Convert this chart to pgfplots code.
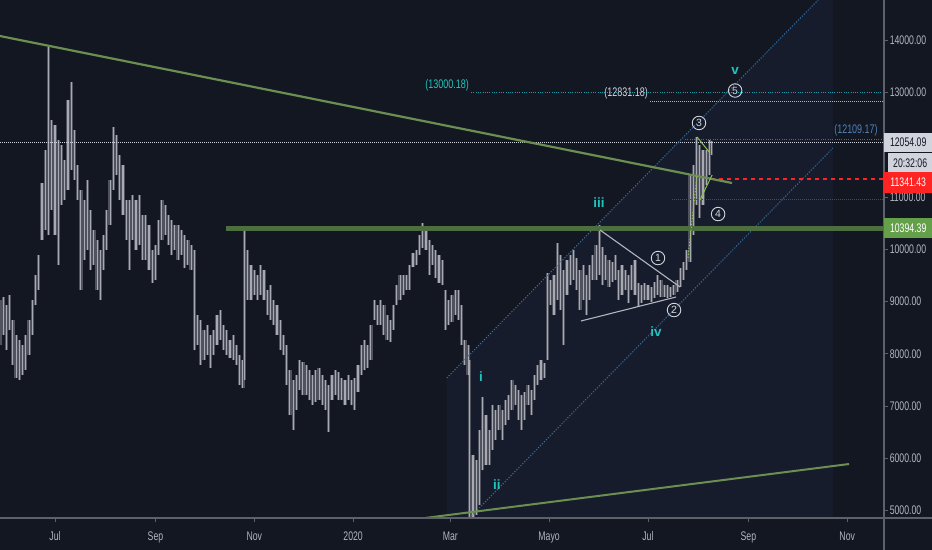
\documentclass[border=0pt]{standalone}
\usepackage{pgfplots}
\pgfplotsset{compat=1.18}
\usepackage{pgfplotstable}
\usepackage{fontspec}
\setmainfont{Liberation Sans}
\definecolor{bg}{HTML}{131722}
\definecolor{chfill}{HTML}{161C2B}
\definecolor{wick}{HTML}{A7AAB2}
\definecolor{wickdim}{HTML}{50535D}
\definecolor{txt}{HTML}{B2B5BE}
\definecolor{axgray}{HTML}{5D616C}
\definecolor{tgreen}{HTML}{6B8F51}
\definecolor{hgreen}{HTML}{4D6E3E}
\definecolor{chblue}{HTML}{2F72AE}
\definecolor{cyanl}{HTML}{1E9DB0}
\definecolor{cyant}{HTML}{22C4BD}
\definecolor{ltgreen}{HTML}{8BC34A}
\definecolor{dkred}{HTML}{8A2E2E}
\definecolor{rred}{HTML}{FF2424}
\definecolor{bgreen}{HTML}{64A04A}
\definecolor{lgray}{HTML}{D1D4DC}
\definecolor{bluet}{HTML}{4F81B8}
\newcommand\tf{\fontsize{12.5}{14}\selectfont}
\pgfplotstableread{
d h l
-34 9029 8167
-32 9090 8358
-30 8933 8071
-28 9125 8454
-26 8646 7784
-24 8358 7535
-22 8263 7496
-20 8167 7592
-18 8358 7688
-16 8646 7975
-14 9029 8358
-12 9508 8933
-10 9891 9220
-8 11270 10178
-6 11902 10370
-4 13876 10274
-2 12477 10753
0 12381 10274
2 12094 9700
4 11998 10849
6 11711 10945
8 12860 11136
10 13205 11519
12 12286 11328
14 11615 10945
16 11136 9220
18 10945 9795
20 11328 9987
22 10753 9604
24 10370 9700
26 10178 9220
28 9987 9029
30 10274 9604
32 10753 9987
34 11328 10466
36 12343 11136
38 12190 11423
40 11807 10945
42 11615 10657
44 10945 10178
46 10945 9604
48 11040 10178
50 10945 9987
52 11040 10082
54 10657 9795
56 10657 9795
58 10466 9604
60 9987 9355
62 10082 9412
64 10561 9891
66 10945 10178
68 10849 10274
70 10657 10082
72 10561 9891
74 10466 9987
76 10466 9795
78 10370 9891
80 10274 9642
82 10178 9700
84 10082 9604
86 9987 8071
88 8741 8167
90 8646 7784
92 8454 7879
94 8550 7975
96 8358 7726
98 8454 7975
100 8741 8167
102 8837 8263
104 8550 8071
106 8454 7975
108 8263 7917
110 8358 7879
112 8167 7784
114 7975 7400
116 7879 7343
117 10370 7496
119 9987 9029
121 9700 9029
123 9604 9125
125 9508 9029
127 9700 9125
129 9604 9029
131 9220 8741
133 9316 8646
135 9029 8550
137 8933 8358
139 8646 8071
141 8358 7975
143 8167 7400
145 7688 6825
147 7496 6538
149 7592 6921
151 7879 7305
153 7841 7209
155 7784 7209
157 7688 7113
159 7592 7017
161 7688 7075
163 7726 7113
165 7592 7017
167 7496 6921
169 7400 6500
171 7592 7113
173 7688 7209
175 7650 7113
177 7534 7113
179 7496 7017
181 7592 7113
183 7496 7017
185 7534 6921
187 7784 7266
189 8167 7592
191 8263 7688
193 8167 7726
195 8550 7879
197 9029 8646
199 8933 8550
201 9029 8550
203 8933 8358
205 8741 8263
207 8646 8225
209 8933 8454
211 9316 8933
213 9508 9029
215 9508 9125
217 9508 9220
219 9700 9220
221 9929 9661
223 9987 9700
225 10274 9891
227 10504 10025
229 10370 9987
231 10178 9508
233 10082 9700
235 9987 9450
237 9891 9355
239 9795 9316
241 9220 8454
243 9029 8550
245 9125 8608
247 9220 8741
249 9220 8646
251 8933 8167
253 8263 7784
255 8167 7592
256 7879 4700
258 6059 4700
260 5964 4910
262 6538 5101
264 7170 5772
266 6825 5868
268 6538 5868
270 7017 6155
272 6921 6347
274 7017 6538
276 6921 6347
278 7113 6634
280 7209 6730
282 7496 6921
284 7400 7017
286 7305 6730
288 7209 6538
290 7266 6730
292 7400 7017
294 7305 6825
296 7592 7113
298 7784 7400
300 7879 7496
302 7822 7535
304 9546 7879
306 9412 8933
308 9508 8741
310 10121 9029
312 9891 8837
314 9604 8167
316 9795 9125
318 9891 9316
320 9987 9412
322 9833 9220
324 9604 8837
326 9700 9029
328 9508 8741
330 9700 9029
332 9891 9412
334 10082 9412
336 10466 9508
338 10044 9316
340 9891 9412
342 9795 9278
344 9757 9374
346 9891 9412
348 9604 9029
350 9700 9125
352 9604 9220
354 9508 8971
356 9700 9220
358 9795 9125
360 9355 8895
362 9316 8971
364 9355 9029
366 9316 9029
368 9278 8990
370 9374 9067
372 9508 9125
374 9412 9087
376 9316 9087
378 9316 9067
380 9278 9087
382 9316 9125
384 9412 9182
386 9642 9278
388 9757 9412
390 9987 9604
392 11423 9757
394 11615 10274
396 12151 10849
398 11998 10600
400 11902 10849
402 11902 11232
404 12094 11423
405 12075 11807
}\btc
\begin{document}
\begin{tikzpicture}
\useasboundingbox (0bp,0bp) rectangle (932bp,550bp);
\fill[bg] (0bp,0bp) rectangle (932bp,550bp);
\begin{axis}[at={(0bp,32bp)}, anchor=south west,
  width=884bp, height=518bp, scale only axis,
  xmin=-33.95, xmax=511.7, ymin=4853, ymax=14776,
  clip mode=individual,
  axis x line*=bottom, axis y line*=right,
  axis line style={draw=none},
  scaled y ticks=false, scaled x ticks=false,
  xtick={0,62,123,184,244,305,366,428,489},
  xticklabels={Jul,Sep,Nov,2020,Mar,Mayo,Jul,Sep,Nov},
  ytick={5000,6000,7000,8000,9000,10000,11000,13000,14000},
  tick align=outside, major tick length=4bp,
  tick style={draw=axgray, line width=0.8bp},
  ticklabel style={font=\tf, text=txt},
  xticklabel style={xscale=0.7, yshift=-6bp},
  yticklabel style={xscale=0.7, anchor=west, xshift=-1bp,
    /pgf/number format/fixed, /pgf/number format/fixed zerofill,
    /pgf/number format/precision=2, /pgf/number format/1000 sep={},
    /pgf/number format/assume math mode=true},
]
% channel background
\addplot[fill=chfill, draw=none, forget plot] coordinates {(241.8,7535) (471,14776) (480.2,14776) (480.2,4853) (241.8,4853)} -- cycle;
% candles (high-low ranges): dim halo + bright wick
\addplot[draw=none, mark=none, forget plot,
  error bars/.cd, y dir=plus, y explicit, error mark=none,
  error bar style={draw=wickdim, line width=3.3bp}]
  table[x=d, y=l, y error expr=\thisrow{h}-\thisrow{l}] {\btc};
\addplot[draw=none, mark=none, forget plot,
  error bars/.cd, y dir=plus, y explicit, error mark=none,
  error bar style={draw=wick, line width=1.1bp}]
  table[x=d, y=l, y error expr=\thisrow{h}-\thisrow{l}] {\btc};
% horizontal levels
\addplot[lgray, line width=1bp, dash pattern=on 1bp off 1bp] coordinates {(-33.95,12054.09) (511.7,12054.09)};
\addplot[cyanl, line width=1bp, dash pattern=on 1bp off 1.3bp] coordinates {(256.8,13000.18) (511.7,13000.18)};
\addplot[txt, line width=0.9bp, dash pattern=on 1bp off 1bp] coordinates {(367.3,12831.18) (511.7,12831.18)};
\addplot[chblue, line width=1bp, dash pattern=on 1bp off 1.3bp] coordinates {(388.9,12109.17) (511.7,12109.17)};
\addplot[dkred, line width=1bp, dash pattern=on 1bp off 1bp] coordinates {(380.9,10945) (511.7,10945)};
\addplot[rred, line width=1.6bp, dash pattern=on 4bp off 4bp] coordinates {(404.9,11341.43) (511.7,11341.43)};
% channel lines
\addplot[chblue, line width=1bp, dash pattern=on 1.2bp off 1.6bp] coordinates {(241.8,7535) (471,14776)};
\addplot[chblue, line width=1bp, dash pattern=on 1.2bp off 1.6bp] coordinates {(255.8,4853) (480.2,11941)};
% trend lines
\addplot[hgreen, line width=5bp] coordinates {(105.6,10394.39) (511.7,10394.39)};
\addplot[tgreen, line width=2.2bp] coordinates {(-33.95,14086) (417.9,11270)};
\addplot[tgreen, line width=2bp] coordinates {(228.4,4853) (490.1,5887)};
% triangle
\addplot[txt, line width=1.1bp] coordinates {(336.4,10370) (385.8,9278)};
\addplot[txt, line width=1.1bp] coordinates {(324.7,8627) (383.3,9086)};
% small green lines
\addplot[ltgreen, line width=1bp] coordinates {(396.3,12152) (404.3,11845)};
\addplot[ltgreen, line width=1bp] coordinates {(398.1,10945) (405.6,11424)};
\addplot[ltgreen, line width=1bp, dash pattern=on 1.5bp off 1.5bp] coordinates {(390.7,9834) (396.3,11424)};
% labels
\node[text=cyant, font=\tf, xscale=0.72] at (axis cs:242,13148) {(13000.18)};
\node[text=lgray, font=\tf, xscale=0.72] at (axis cs:352.5,12994) {(12831.18)};
\node[text=bluet, font=\tf, xscale=0.72] at (axis cs:494.4,12286) {(12109.17)};
\tikzset{wc/.style={circle, draw=lgray, line width=0.9bp, inner sep=0pt, minimum size=13.5bp, text=lgray, font=\fontsize{10.5}{10.5}\selectfont}}
\node[wc] at (axis cs:419.8,13042) {5};
\node[wc] at (axis cs:397.5,12420) {3};
\node[wc] at (axis cs:409.3,10676) {4};
\node[wc] at (axis cs:372.2,9833) {1};
\node[wc] at (axis cs:382.1,8837) {2};
\tikzset{wl/.style={text=cyant, font=\fontsize{13.5}{13.5}\bfseries\selectfont}}
\node[wl] at (axis cs:419.8,13416) {v};
\node[wl] at (axis cs:335.8,10887) {iii};
\node[wl] at (axis cs:371,8416) {iv};
\node[wl] at (axis cs:263,7554) {i};
\node[wl] at (axis cs:272.8,5485) {ii};
\end{axis}
% scale separators
\draw[axgray, line width=1.5bp] (0bp,32bp) -- (932bp,32bp);
\draw[axgray, line width=1.2bp] (884bp,0bp) -- (884bp,550bp);
% price boxes
\node[fill=lgray, text=bg, font=\tf, minimum width=48bp, minimum height=19bp, inner sep=0pt, anchor=west] at (884bp,407.8bp) {\scalebox{0.7}[1]{12054.09}};
\node[fill=lgray, text=bg, font=\tf, minimum width=44bp, minimum height=20bp, inner sep=0pt, anchor=west] at (888bp,387bp) {\scalebox{0.7}[1]{20:32:06}};
\node[fill=rred, text=white, font=\tf, minimum width=48bp, minimum height=21bp, inner sep=0pt, anchor=west] at (884bp,367.5bp) {\scalebox{0.7}[1]{11341.43}};
\node[fill=bgreen, text=white, font=\tf, minimum width=48bp, minimum height=20bp, inner sep=0pt, anchor=west] at (884bp,322bp) {\scalebox{0.7}[1]{10394.39}};
\end{tikzpicture}
\end{document}
